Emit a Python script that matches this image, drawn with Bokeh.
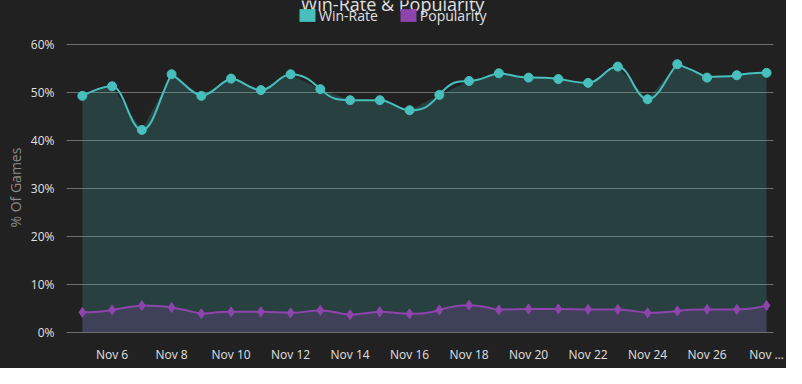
from bokeh.plotting import figure
from bokeh.models import Range1d, FixedTicker, Legend, LegendItem, Label, Title
from bokeh.embed import file_html
from bokeh.resources import INLINE

# ---- data ----
days = [5, 6, 7, 8, 9, 10, 11, 12, 13, 14, 15, 16, 17, 18, 19, 20, 21, 22, 23, 24, 25, 26, 27, 28]
win_rate = [49.3, 51.3, 42.2, 53.8, 49.3, 52.9, 50.5, 53.8, 50.7, 48.4, 48.4, 46.3,
            49.5, 52.4, 54.0, 53.1, 52.8, 52.0, 55.4, 48.6, 55.9, 53.1, 53.6, 54.1]
popularity = [4.2, 4.7, 5.6, 5.2, 3.9, 4.3, 4.3, 4.1, 4.6, 3.7, 4.3, 3.9,
              4.7, 5.7, 4.7, 4.9, 4.9, 4.8, 4.8, 4.1, 4.5, 4.8, 4.8, 5.6]
x_ticks = [6, 8, 10, 12, 14, 16, 18, 20, 22, 24, 26, 28]
x_tick_labels = ["Nov 6", "Nov 8", "Nov 10", "Nov 12", "Nov 14", "Nov 16",
                 "Nov 18", "Nov 20", "Nov 22", "Nov 24", "Nov 26", "Nov \u2026"]
y_ticks = [0, 10, 20, 30, 40, 50, 60]
y_tick_labels = ["0%", "10%", "20%", "30%", "40%", "50%", "60%"]
series_names = ["Win-Rate", "Popularity"]
title_text = "Win-Rate & Popularity"
y_title = "% Of Games"

# ---- style / layout ----
BG = "#212121"
TEAL = "#47bfbd"
PURPLE = "#8e44ad"
GRID = "#6e6e6e"
TXT = "#e0e0e0"
FONT = "Open Sans"
W, H = 786, 368
HEADER = 44          # px between canvas top and the 60% grid line
BOTTOM = 36
PLOT_H = H - HEADER - BOTTOM


def spline_segments(xs, ys, s=1.5):
    """Control points of a smooth (Highcharts-style) spline through the data points."""
    n = len(xs)
    d = s + 1.0
    left = [(xs[i], ys[i]) for i in range(n)]
    right = [(xs[i], ys[i]) for i in range(n)]
    for i in range(1, n - 1):
        px, py = xs[i], ys[i]
        lx, ly = xs[i - 1], ys[i - 1]
        nx, ny = xs[i + 1], ys[i + 1]
        lcx, lcy = (s * px + lx) / d, (s * py + ly) / d
        rcx, rcy = (s * px + nx) / d, (s * py + ny) / d
        if rcx != lcx:
            j = ((lcy - rcy) * (rcx - px)) / (rcx - lcx) + py - rcy
            lcy += j
            rcy += j
        if lcy > max(ly, py):
            lcy = max(ly, py); rcy = 2 * py - lcy
        elif lcy < min(ly, py):
            lcy = min(ly, py); rcy = 2 * py - lcy
        if rcy > max(py, ny):
            rcy = max(py, ny); lcy = 2 * py - rcy
        elif rcy < min(py, ny):
            rcy = min(py, ny); lcy = 2 * py - rcy
        left[i] = (lcx, lcy)
        right[i] = (rcx, rcy)
    return dict(x0=xs[:-1], y0=ys[:-1], x1=xs[1:], y1=ys[1:],
                cx0=[right[i][0] for i in range(n - 1)], cy0=[right[i][1] for i in range(n - 1)],
                cx1=[left[i + 1][0] for i in range(n - 1)], cy1=[left[i + 1][1] for i in range(n - 1)])


y_top = y_ticks[-1] * (1 + HEADER / PLOT_H)   # frame reaches the canvas top (room for legend/title)

p = figure(width=W, height=H, output_backend="svg", toolbar_location=None,
           x_range=Range1d(days[0] - 0.533, days[-1] + 0.233),
           y_range=Range1d(y_ticks[0], y_top),
           min_border_left=60, min_border_right=13, min_border_top=0, min_border_bottom=BOTTOM)
p.background_fill_color = BG
p.border_fill_color = BG
p.outline_line_color = None
p.styles = {"background-color": BG}

# areas
p.varea(x=days, y1=0, y2=win_rate, fill_color=TEAL, fill_alpha=0.2)
p.varea(x=days, y1=0, y2=popularity, fill_color=PURPLE, fill_alpha=0.22)

# smooth lines
p.bezier(line_color=TEAL, line_width=2, **spline_segments(days, win_rate))
p.bezier(line_color=PURPLE, line_width=2, **spline_segments(days, popularity))

# markers
p.scatter(days, win_rate, marker="circle", size=9, fill_color=TEAL, line_color=TEAL)
p.scatter(days, popularity, marker="diamond", size=10, fill_color=PURPLE, line_color=PURPLE)

# axes
p.xaxis.ticker = FixedTicker(ticks=x_ticks)
p.xaxis.major_label_overrides = {t: l for t, l in zip(x_ticks, x_tick_labels)}
p.yaxis.ticker = FixedTicker(ticks=y_ticks)
p.yaxis.major_label_overrides = {t: l for t, l in zip(y_ticks, y_tick_labels)}
for ax in (p.xaxis[0], p.yaxis[0]):
    ax.major_tick_line_color = None
    ax.minor_tick_line_color = None
    ax.major_label_text_color = TXT
    ax.major_label_text_font = FONT
    ax.major_label_text_font_size = "12px"
p.xaxis.axis_line_color = GRID
p.yaxis.axis_line_color = None
p.xaxis.major_label_standoff = 7
p.yaxis.major_label_standoff = 6

p.xgrid.grid_line_color = None
p.ygrid.grid_line_color = GRID
p.ygrid.grid_line_width = 1

# y-axis title, centred on the 0..60 band
p.add_layout(Title(text=y_title, align="left", offset=105, standoff=6,
                   text_color="#8a8a8a", text_font=FONT, text_font_size="14px",
                   text_font_style="normal"), "left")

# legend (square swatches)
sw1 = p.quad(left=[days[0]], right=[days[0]], top=[0], bottom=[0], fill_color=TEAL, line_color=None)
sw2 = p.quad(left=[days[0]], right=[days[0]], top=[0], bottom=[0], fill_color=PURPLE, line_color=None)
legend = Legend(items=[LegendItem(label=series_names[0], renderers=[sw1]),
                       LegendItem(label=series_names[1], renderers=[sw2])],
                orientation="horizontal", location=(231, H - BOTTOM - 24.5),
                background_fill_alpha=0, border_line_alpha=0,
                label_text_color=TXT, label_text_font=FONT, label_text_font_size="14px",
                glyph_width=20, glyph_height=16, label_standoff=2, spacing=20,
                padding=0, margin=0)
p.add_layout(legend)

# chart title (cut at the top edge, as in the reference)
p.add_layout(Label(x=326, y=H - BOTTOM - 3, x_units="screen", y_units="screen", text=title_text,
                   text_align="center", text_baseline="alphabetic",
                   text_color=TXT, text_font=FONT, text_font_size="18px"))

open("out.html", "w").write(file_html(p, INLINE))
